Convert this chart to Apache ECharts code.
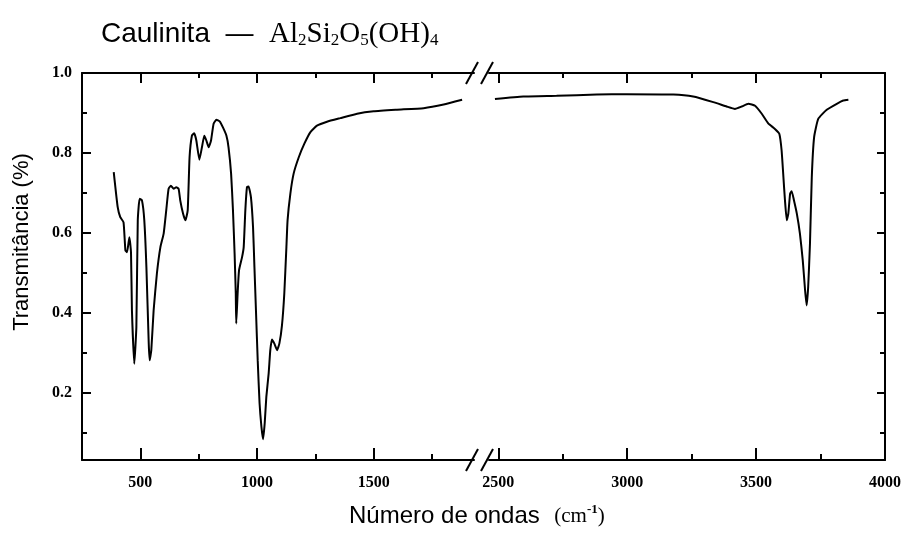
<!DOCTYPE html>
<html>
<head>
<meta charset="utf-8">
<script src="https://cdn.jsdelivr.net/npm/echarts@6/dist/echarts.min.js"></script>
<style>
  html, body { margin: 0; padding: 0; background: #fff; }
  #chart { width: 905px; height: 547px; }
</style>
</head>
<body>
<div id="chart"></div>
<script>
// FTIR spectrum of kaolinite, split into a low and a high wavenumber segment
const lowWavenumbers = [386, 403, 414, 428, 436, 443, 453, 460, 464, 474, 483, 489, 497, 507, 517, 526, 536, 540, 547, 557, 571, 586, 600, 611, 621, 631, 643, 654, 664, 671, 683, 693, 703, 711, 721, 731, 740, 753, 764, 774, 783, 793, 803, 814, 826, 840, 854, 869, 878, 889, 897, 904, 909, 911, 917, 923, 936, 943, 950, 957, 964, 974, 983, 989, 996, 1003, 1011, 1019, 1026, 1033, 1040, 1050, 1057, 1064, 1074, 1086, 1096, 1107, 1117, 1126, 1131, 1143, 1157, 1179, 1203, 1229, 1257, 1300, 1357, 1429, 1500, 1600, 1714, 1800, 1879];
const lowTransmittance = [0.752, 0.664, 0.639, 0.626, 0.556, 0.551, 0.589, 0.551, 0.406, 0.272, 0.364, 0.631, 0.685, 0.681, 0.631, 0.514, 0.323, 0.281, 0.306, 0.406, 0.498, 0.564, 0.598, 0.656, 0.710, 0.718, 0.710, 0.714, 0.710, 0.681, 0.648, 0.631, 0.656, 0.789, 0.843, 0.849, 0.831, 0.783, 0.814, 0.843, 0.831, 0.814, 0.831, 0.873, 0.883, 0.879, 0.864, 0.843, 0.814, 0.748, 0.656, 0.548, 0.448, 0.373, 0.448, 0.506, 0.539, 0.564, 0.656, 0.714, 0.716, 0.689, 0.614, 0.514, 0.398, 0.281, 0.173, 0.114, 0.083, 0.123, 0.189, 0.248, 0.306, 0.333, 0.323, 0.306, 0.323, 0.368, 0.448, 0.564, 0.631, 0.698, 0.748, 0.789, 0.823, 0.852, 0.868, 0.878, 0.887, 0.898, 0.904, 0.908, 0.912, 0.921, 0.933];
const highWavenumbers = [2487, 2597, 2726, 2882, 2998, 3179, 3256, 3334, 3386, 3418, 3444, 3470, 3496, 3522, 3547, 3573, 3590, 3599, 3606, 3612, 3619, 3625, 3632, 3638, 3647, 3658, 3670, 3681, 3690, 3696, 3702, 3709, 3716, 3725, 3741, 3774, 3813, 3838, 3858];
const highTransmittance = [0.935, 0.941, 0.943, 0.946, 0.947, 0.946, 0.941, 0.927, 0.916, 0.910, 0.916, 0.923, 0.918, 0.898, 0.874, 0.860, 0.848, 0.806, 0.739, 0.681, 0.631, 0.648, 0.698, 0.704, 0.681, 0.648, 0.598, 0.531, 0.456, 0.418, 0.464, 0.573, 0.739, 0.839, 0.885, 0.908, 0.923, 0.931, 0.933];

// Tick positions
const lowMajorTicks = [500, 1000, 1500];
const lowMinorTicks = [750, 1250, 1750];
const highMajorTicks = [2500, 3000, 3500, 4000];
const highMinorTicks = [2750, 3250, 3750];
const yMajorTicks = [0.2, 0.4, 0.6, 0.8, 1.0];
const yMinorTicks = [0.1, 0.3, 0.5, 0.7, 0.9];

// Axis ranges
const lowRange = [250, 1930];
const highRange = [2464, 4000];
const yRange = [0.031, 1.0];

// Layout
const plotTop = 73, plotHeight = 387;
const lowLeft = 82, lowWidth = 392;
const highLeft = 489, highWidth = 396;

const INK = '#000';
const tickFont = { fontFamily: 'Liberation Serif', fontWeight: 'bold', fontSize: 16, color: INK };

function xAxis(grid, position, range, ticks, len, showLine, labels) {
  return {
    type: 'value', gridIndex: grid, position: position,
    min: range[0], max: range[1],
    axisLine: { show: showLine, lineStyle: { color: INK, width: 2 } },
    axisTick: { show: true, inside: true, length: len, customValues: ticks, lineStyle: { color: INK, width: 2 } },
    axisLabel: labels ? Object.assign({ show: true, customValues: labels, margin: 15,
      formatter: v => String(v) }, tickFont) : { show: false },
    splitLine: { show: false }
  };
}
function yAxis(grid, position, ticks, len, showLine, labels) {
  return {
    type: 'value', gridIndex: grid, position: position,
    min: yRange[0], max: yRange[1],
    axisLine: { show: showLine, lineStyle: { color: INK, width: 2 } },
    axisTick: { show: true, inside: true, length: len, customValues: ticks, lineStyle: { color: INK, width: 2 } },
    axisLabel: labels ? Object.assign({ show: true, customValues: labels, margin: 10,
      formatter: v => v.toFixed(1) }, tickFont) : { show: false },
    splitLine: { show: false }
  };
}

const chart = echarts.init(document.getElementById('chart'), null, { renderer: 'canvas' });

// Break marks "//" across the top and bottom axis lines
const breakMarks = [];
[plotTop, plotTop + plotHeight].forEach(y => {
  [lowLeft + lowWidth - 2, highLeft - 2].forEach(x => {
    breakMarks.push({
      type: 'line',
      shape: { x1: x - 6, y1: y + 11, x2: x + 6, y2: y - 11 },
      style: { stroke: INK, lineWidth: 2 }
    });
  });
});

chart.setOption({
  animation: false,
  backgroundColor: '#fff',
  title: {
    text: '{a|Caulinita}{d|  —  }{f|Al}{s|2}{f|Si}{s|2}{f|O}{s|5}{f|(OH)}{s|4}',
    left: 96, top: 12,
    textStyle: {
      fontWeight: 'normal',
      rich: {
        a: { fontFamily: 'Liberation Sans', fontWeight: 'normal', fontSize: 28, color: INK, lineHeight: 34 },
        d: { fontFamily: 'Liberation Sans', fontWeight: 'normal', fontSize: 28, color: INK, lineHeight: 34 },
        f: { fontFamily: 'Liberation Serif', fontWeight: 'normal', fontSize: 29, color: INK, lineHeight: 34 },
        s: { fontFamily: 'Liberation Serif', fontWeight: 'normal', fontSize: 17, color: INK, lineHeight: 17, padding: [14, 0, 0, 0] }
      }
    }
  },
  grid: [
    { left: lowLeft, top: plotTop, width: lowWidth, height: plotHeight },
    { left: highLeft, top: plotTop, width: highWidth, height: plotHeight }
  ],
  xAxis: [
    xAxis(0, 'bottom', lowRange, lowMajorTicks, 12, true, lowMajorTicks),
    xAxis(0, 'bottom', lowRange, lowMinorTicks, 6, false, null),
    xAxis(0, 'top', lowRange, lowMajorTicks, 10, true, null),
    xAxis(0, 'top', lowRange, lowMinorTicks, 5, false, null),
    xAxis(1, 'bottom', highRange, highMajorTicks, 12, true, highMajorTicks),
    xAxis(1, 'bottom', highRange, highMinorTicks, 6, false, null),
    xAxis(1, 'top', highRange, highMajorTicks, 10, true, null),
    xAxis(1, 'top', highRange, highMinorTicks, 5, false, null)
  ],
  yAxis: [
    yAxis(0, 'left', yMajorTicks, 9, true, yMajorTicks),
    yAxis(0, 'left', yMinorTicks, 5, false, null),
    yAxis(1, 'right', yMajorTicks, 8, true, null),
    yAxis(1, 'right', yMinorTicks, 5, false, null)
  ],
  series: [
    {
      type: 'line', xAxisIndex: 0, yAxisIndex: 0,
      data: lowWavenumbers.map((w, i) => [w, lowTransmittance[i]]),
      showSymbol: false, smooth: 0.15,
      lineStyle: { color: INK, width: 2 }
    },
    {
      type: 'line', xAxisIndex: 4, yAxisIndex: 2,
      data: highWavenumbers.map((w, i) => [w, highTransmittance[i]]),
      showSymbol: false, smooth: 0.15,
      lineStyle: { color: INK, width: 2 }
    }
  ],
  graphic: breakMarks.concat([
    {
      type: 'text', left: 349, top: 503,
      style: {
        text: '{a|Número de ondas}{g|    }{b|(cm}{p|-1}{b|)}',
        rich: {
          a: { fontFamily: 'Liberation Sans', fontSize: 24, fill: INK, lineHeight: 30 },
          g: { fontSize: 13, lineHeight: 30 },
          b: { fontFamily: 'Liberation Serif', fontSize: 21, fill: INK, lineHeight: 30 },
          p: { fontFamily: 'Liberation Serif', fontWeight: 'bold', fontSize: 13, fill: INK, lineHeight: 13, padding: [0, 0, 13, 0] }
        }
      }
    },
    {
      type: 'text', x: 22, y: 242, rotation: Math.PI / 2,
      style: {
        text: 'Transmitância (%)', fontFamily: 'Liberation Sans', fontSize: 22, fill: INK,
        align: 'center', verticalAlign: 'middle'
      }
    }
  ])
});
</script>
</body>
</html>
